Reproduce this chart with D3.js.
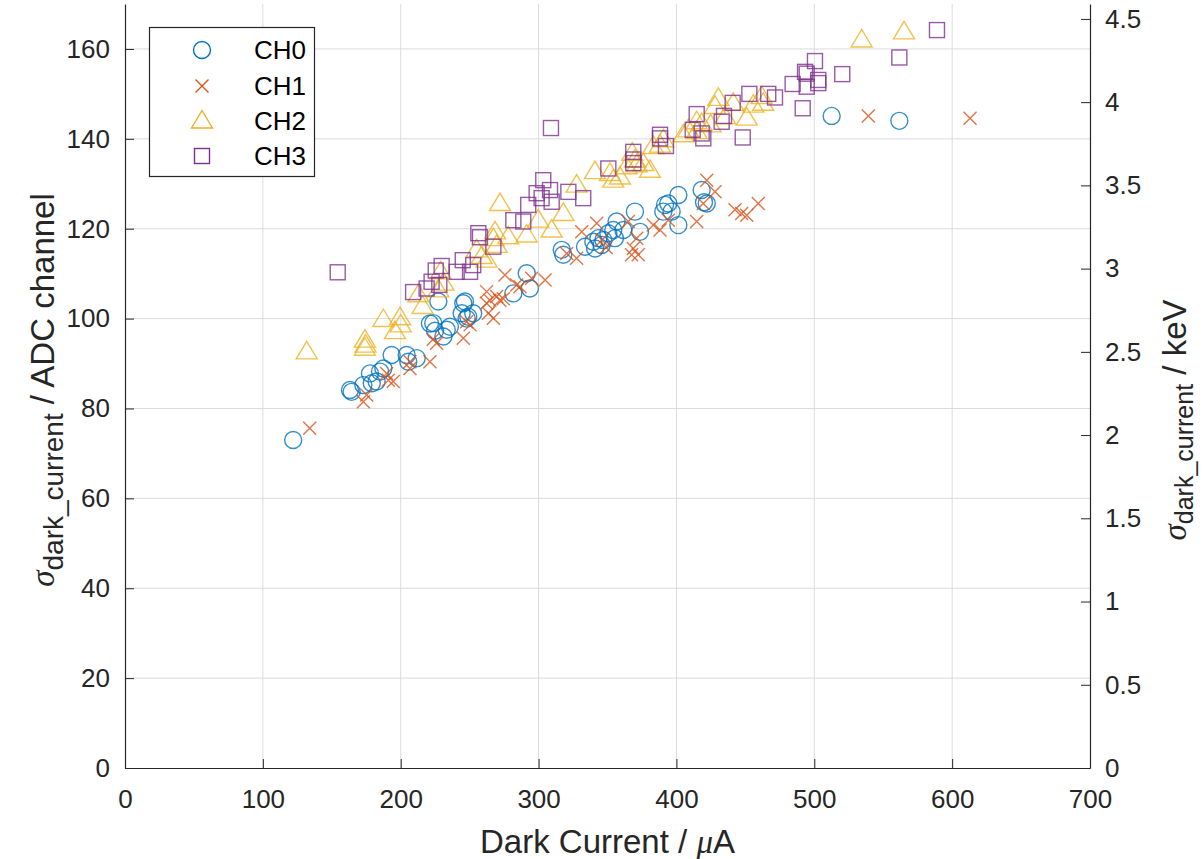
<!DOCTYPE html>
<html><head><meta charset="utf-8">
<script src="https://cdn.jsdelivr.net/npm/d3@7"></script>
<style>
html,body{margin:0;padding:0;background:#fff;}
svg{display:block;font-family:"Liberation Sans",Arial,sans-serif;}
</style></head>
<body><svg id="chart" width="1203" height="859"></svg>
<script>
// ---- data (x: dark current µA, y: sigma ADC channel) ----
const seriesNames = ["CH0","CH1","CH2","CH3"];
const ch0 = [[122,73],[163.2,84.1],[164.4,83.7],[172.9,85.2],[179,85.6],[182.5,86],[177.7,87.8],[185,88.2],[187.4,88.9],[193.4,91.9],[204.3,91.9],[205.5,90.4],[211.6,91.2],[221.2,98.9],[223.6,99],[224.9,97.3],[227.3,103.8],[231,96],[233.4,97.5],[235.7,98.2],[244.2,101.2],[245.4,103.4],[247.8,100],[249,100.4],[252.6,101.2],[246.6,103.8],[281.7,105.6],[291.4,110.1],[293.7,106.7],[316.8,115.3],[317.9,114.2],[333.7,116],[339.7,117.1],[341,115.6],[343.4,117.9],[345.8,116.4],[347,117.5],[350.6,119],[354.2,119.7],[355.4,117.9],[356.6,121.6],[361.5,119.7],[369.9,123.8],[373.6,119.3],[390.5,123.8],[391.7,125.3],[394.1,125.6],[396.5,123.8],[401.4,127.5],[401.4,120.8],[418.3,128.6],[420,125.9],[422,125.6],[512.6,145.1],[561.7,144]];
const ch1 = [[134,75.6],[172.9,81.5],[175.3,83],[189.8,87.8],[191,86.3],[194.6,86],[206.7,90.4],[206.7,88.9],[221.2,90.4],[223.6,95.4],[226,94.5],[245.4,95.6],[247.8,99.3],[250.3,98.6],[262.3,106],[262.3,103.4],[263.6,101.2],[264.7,104.1],[267.2,100.1],[269.6,104.9],[271.9,104.1],[274.4,104.4],[275.6,109.7],[284.1,107.5],[286.5,107.1],[295,109],[304.7,108.6],[320.4,114.5],[327.6,113.4],[331.3,119.3],[342.2,121.2],[346,117.5],[349,115.8],[365.1,121.6],[371.2,117.9],[367.5,114.2],[372.3,114.2],[368.7,115.6],[383.2,120.8],[388.1,119.7],[394.1,121.9],[414.7,121.6],[419.5,125.6],[422,130.8],[428,128.2],[442.5,124.2],[447.3,123.4],[451,123],[459.4,125.6],[539.2,145.1],[613,144.6]];
const ch2 = [[131.8,92.6],[174,95.2],[174.5,94.1],[174,93.4],[187.4,99.8],[199.5,100.2],[200,98.6],[195.8,97.1],[215.8,102.7],[212.8,105.3],[227.3,106.4],[229,110.4],[231,107.9],[255.1,115.3],[258.7,113.8],[262.3,113],[268.4,119.3],[267.2,117.8],[269.6,116.3],[278,118.2],[272,125.6],[291.4,118.6],[299.8,121.9],[309.5,119.7],[318,123.4],[327.6,129.7],[340.9,132.7],[354.2,130.8],[351.8,132.3],[359,131.5],[363.9,133.8],[368,136.8],[369.9,135.3],[371.2,134.2],[376,134.5],[380.8,133],[383.2,138.3],[388.1,138.6],[390.5,139.8],[405,140.9],[408.6,142],[414.7,143.8],[418.3,143.4],[414.7,141.6],[424.8,143.1],[428,147.2],[430.4,149],[435.3,144.9],[441.2,147.9],[451,144.6],[455.8,147.5],[463,147.9],[461.8,149.4],[534.4,162],[565.1,163.8]];
const ch3 = [[154.3,110.3],[209,105.9],[218.8,106.7],[222.4,108.2],[225.4,110.7],[228,107.5],[229.7,111.7],[240.6,110.4],[245,113],[250.3,110.4],[252.6,111.9],[256.3,119],[257.5,118.1],[267.2,116],[281.7,121.9],[288.9,121.6],[292.5,125.3],[298.6,127.9],[303.4,130.8],[302.2,126.8],[308.3,128.6],[309.5,126],[309,142.4],[321.6,128.2],[332.4,126.8],[350.6,133.4],[368.7,137.1],[368.7,135.4],[368.7,134.6],[388.1,140.9],[388.1,140.1],[392.4,138.4],[411.8,142],[414.7,145.5],[418.3,141.2],[419.5,140.1],[432.8,143.8],[434.5,145.1],[440.8,148],[448.1,140.3],[452.9,150],[466.6,150],[471.5,149.2],[484.3,152.2],[491.6,146.8],[493.3,154.9],[494.5,154.5],[494.5,151.6],[500.5,157.3],[502.9,153.1],[502.9,152.4],[520.3,154.4],[561.7,158.1],[589,164.2]];
const xTicks = [0,100,200,300,400,500,600,700];
const yTicks = [0,20,40,60,80,100,120,140,160];
const yRightTicks = [0,0.5,1,1.5,2,2.5,3,3.5,4,4.5];
const adcPerKeV = 37.04;
const xDomain = [0,700], yDomain = [0,170];

// ---- layout ----
const L = 125, R = 1090, T = 4, B = 768;
const colors = ["#0072BD","#D95319","#EDB120","#7E2F8E"];
const axisColor = "#262626";
const svg = d3.select("#chart");
const x = d3.scaleLinear().domain(xDomain).range([L,R]);
const y = d3.scaleLinear().domain(yDomain).range([B,T]);
const yR = d3.scaleLinear().domain([0, yDomain[1]/adcPerKeV]).range([B,T]);

// grid
const grid = svg.append("g").attr("stroke","#dcdcdc").attr("stroke-width",1);
xTicks.filter(d=>d>0&&d<700).forEach(d=>grid.append("line").attr("x1",x(d)).attr("x2",x(d)).attr("y1",T).attr("y2",B));
yTicks.filter(d=>d>0).forEach(d=>grid.append("line").attr("x1",L).attr("x2",R).attr("y1",y(d)).attr("y2",y(d)));

// axes
const tickFont = 26;
function styleAxis(g){
  g.selectAll(".domain").attr("stroke",axisColor).attr("stroke-width",1.2);
  g.selectAll(".tick line").attr("stroke",axisColor).attr("stroke-width",1);
  g.selectAll(".tick text").attr("fill",axisColor).style("font-size",tickFont+"px").style("font-family","'Liberation Sans',Arial,sans-serif");
}
const gx = svg.append("g").attr("transform",`translate(0,${B})`)
  .call(d3.axisBottom(x).tickValues(xTicks).tickSize(-9).tickPadding(22).tickSizeOuter(0).tickFormat(d3.format("d")));
styleAxis(gx);
const gy = svg.append("g").attr("transform",`translate(${L},0)`)
  .call(d3.axisLeft(y).tickValues(yTicks).tickSize(-9).tickPadding(15).tickSizeOuter(0).tickFormat(d3.format("d")));
styleAxis(gy);
const gyr = svg.append("g").attr("transform",`translate(${R},0)`)
  .call(d3.axisRight(yR).tickValues(yRightTicks).tickSize(-9).tickPadding(15).tickSizeOuter(0).tickFormat(d=>String(d)));
styleAxis(gyr);

// markers
const gm = svg.append("g").attr("fill","none").attr("stroke-width",1.4).attr("stroke-opacity",0.8);
const sym = {
  circle:(g,cx,cy)=>g.append("circle").attr("cx",cx).attr("cy",cy).attr("r",8.5),
  cross:(g,cx,cy)=>g.append("path").attr("d",`M${cx-6.5},${cy-6.5}L${cx+6.5},${cy+6.5}M${cx-6.5},${cy+6.5}L${cx+6.5},${cy-6.5}`),
  tri:(g,cx,cy)=>g.append("path").attr("d",`M${cx},${cy-10.5}L${cx+10.5},${cy+7}L${cx-10.5},${cy+7}Z`),
  square:(g,cx,cy)=>g.append("rect").attr("x",cx-7.5).attr("y",cy-7.5).attr("width",15).attr("height",15)
};
const kinds = ["circle","cross","tri","square"];
[ch0,ch1,ch2,ch3].forEach((data,i)=>{
  const g = gm.append("g").attr("stroke",colors[i]);
  data.forEach(d=>sym[kinds[i]](g,x(d[0]),y(d[1])));
});

// legend
const lg = svg.append("g");
lg.append("rect").attr("x",149.5).attr("y",27.5).attr("width",165).attr("height",149).attr("fill","#fff").attr("stroke",axisColor).attr("stroke-width",1.2);
const rowsY = [50,86,121,156];
seriesNames.forEach((n,i)=>{
  const g = lg.append("g").attr("stroke",colors[i]).attr("fill","none").attr("stroke-width",1.4);
  sym[kinds[i]](g,202,rowsY[i]);
  lg.append("text").attr("x",254).attr("y",rowsY[i]).attr("dy","0.36em").attr("fill","#000").style("font-size","26px").text(n);
});

// axis labels
const labFont = 33;
svg.append("text").attr("x",(L+R)/2).attr("y",853).attr("text-anchor","middle").attr("fill",axisColor).style("font-size",labFont+"px")
  .call(t=>{t.append("tspan").text("Dark Current / ");t.append("tspan").style("font-style","italic").style("font-family","'Liberation Serif',serif").text("μ");t.append("tspan").text("A");});

function sigmaLabel(cx, cy, unit, subSize, shift){
  const t = svg.append("text").attr("transform",`translate(${cx},${cy}) rotate(-90)`).attr("text-anchor","middle").attr("fill",axisColor).style("font-size",labFont+"px");
  t.append("tspan").style("font-style","italic").style("font-family","'Liberation Serif',serif").text("σ");
  t.append("tspan").attr("dy",shift).style("font-size",subSize+"px").text("dark_current");
  t.append("tspan").attr("dy",-shift).text(" / "+unit);
}
sigmaLabel(54, 390, "ADC channel", 28, 9);
sigmaLabel(1186, 420, "keV", 25, 7);
</script></body></html>
